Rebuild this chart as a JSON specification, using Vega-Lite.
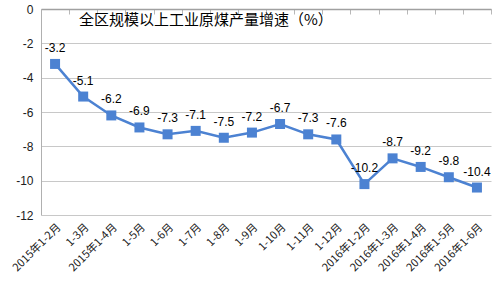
{
  "$schema": "https://vega.github.io/schema/vega-lite/v6.json",
  "width": 450,
  "height": 206,
  "autosize": "none",
  "padding": {"left": 41, "top": 9, "right": 6, "bottom": 73},
  "background": "white",
  "title": {
    "text": "全区规模以上工业原煤产量增速（%）",
    "anchor": "start",
    "frame": "group",
    "offset": 0,
    "dx": 38,
    "dy": 25,
    "font": "Noto Sans CJK SC",
    "fontSize": 15,
    "fontWeight": "normal",
    "color": "#000000"
  },
  "data": {
    "values": [
      {"month": "2015年1-2月", "value": -3.2},
      {"month": "1-3月", "value": -5.1},
      {"month": "2015年1-4月", "value": -6.2},
      {"month": "1-5月", "value": -6.9},
      {"month": "1-6月", "value": -7.3},
      {"month": "1-7月", "value": -7.1},
      {"month": "1-8月", "value": -7.5},
      {"month": "1-9月", "value": -7.2},
      {"month": "1-10月", "value": -6.7},
      {"month": "1-11月", "value": -7.3},
      {"month": "1-12月", "value": -7.6},
      {"month": "2016年1-2月", "value": -10.2},
      {"month": "2016年1-3月", "value": -8.7},
      {"month": "2016年1-4月", "value": -9.2},
      {"month": "2016年1-5月", "value": -9.8},
      {"month": "2016年1-6月", "value": -10.4}
    ]
  },
  "encoding": {
    "y": {
      "field": "value",
      "type": "quantitative",
      "scale": {"domain": [-12, 0], "nice": false, "zero": false},
      "axis": {
        "orient": "left",
        "values": [-12, -10, -8, -6, -4, -2, 0],
        "grid": true,
        "gridColor": "#c8c8c8",
        "gridWidth": 1,
        "domain": true,
        "domainColor": "#b0b0b0",
        "ticks": false,
        "labelPadding": 8,
        "labelFont": "Liberation Sans",
        "labelFontSize": 12,
        "labelColor": "#202020",
        "title": null
      }
    }
  },
  "layer": [
    {
      "mark": {"type": "line", "color": "#4c82d2", "strokeWidth": 2.5},
      "encoding": {
        "x": {
          "field": "month",
          "type": "ordinal",
          "sort": null,
          "scale": {"paddingInner": 0, "paddingOuter": 0},
          "axis": {
            "orient": "bottom",
            "labelAngle": -45,
            "labelAlign": "right",
            "labelBaseline": "top",
            "domain": false,
            "ticks": false,
            "grid": false,
            "labelPadding": 6,
            "labelFont": "Noto Sans CJK SC",
            "labelFontSize": 11,
            "labelColor": "#202020",
            "title": null
          }
        }
      }
    },
    {
      "mark": {"type": "square", "size": 100, "color": "#4c82d2", "opacity": 1, "filled": true},
      "encoding": {
        "x": {
          "field": "month",
          "type": "ordinal",
          "sort": null,
          "scale": {"paddingInner": 0, "paddingOuter": 0},
          "axis": {
            "orient": "top",
            "labels": false,
            "ticks": true,
            "tickSize": -5,
            "tickBand": "extent",
            "tickColor": "#b8b8b8",
            "domain": true,
            "domainColor": "#a0a0a0",
            "domainWidth": 1.5,
            "grid": false,
            "title": null
          }
        }
      }
    },
    {
      "mark": {"type": "text", "dy": -16, "font": "Liberation Sans", "fontSize": 12, "color": "#000000"},
      "encoding": {
        "x": {
          "field": "month",
          "type": "ordinal",
          "sort": null,
          "scale": {"paddingInner": 0, "paddingOuter": 0},
          "axis": null
        },
        "text": {"field": "value", "type": "quantitative", "format": ".1f"}
      }
    }
  ],
  "resolve": {"axis": {"x": "independent"}},
  "config": {
    "view": {"stroke": null},
    "locale": {
      "number": {
        "decimal": ".",
        "thousands": ",",
        "grouping": [3],
        "currency": ["$", ""],
        "minus": "-"
      }
    }
  }
}
